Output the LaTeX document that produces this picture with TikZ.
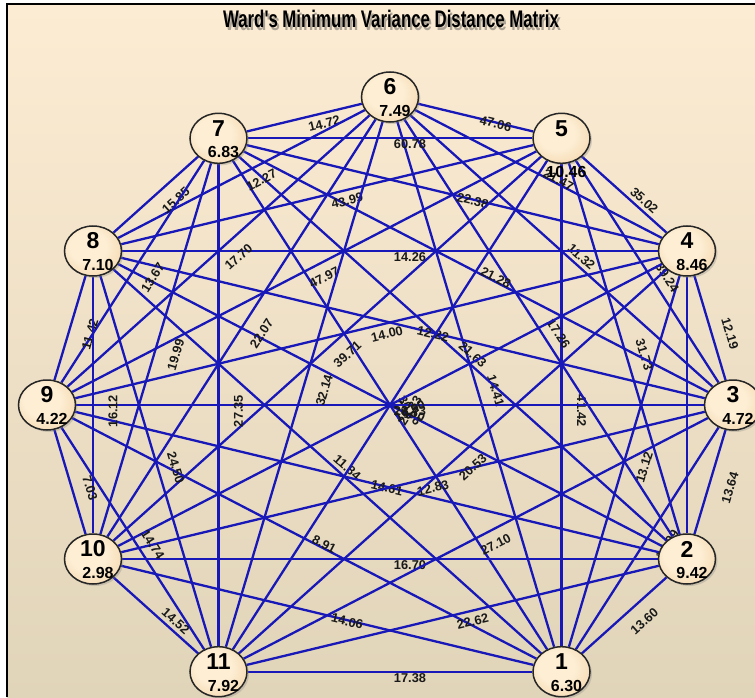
\documentclass[tikz,border=0pt]{standalone}
\usepackage{fontspec}
\setmainfont{Liberation Sans}
\newfontfamily\headfont[FakeStretch=0.7]{Liberation Sans}
\usetikzlibrary{shapes.geometric,shadows}

\pgfdeclarelayer{backdrop}
\pgfdeclarelayer{wires}
\pgfsetlayers{backdrop,wires,main}

\definecolor{wireblue}{RGB}{24,24,184}
\definecolor{paneltop}{RGB}{252,236,211}
\definecolor{panelbottom}{RGB}{224,212,185}
\definecolor{ballin}{RGB}{253,238,212}
\definecolor{ballmid}{RGB}{243,212,168}
\definecolor{ballout}{RGB}{214,172,122}

% light spot a little up and left of the centre of each cluster
\pgfdeclareradialshading{ballshade}{\pgfpoint{-6bp}{6bp}}{%
  color(0bp)=(ballin); color(16bp)=(ballin); color(36bp)=(ballmid);
  color(50bp)=(ballout); color(60bp)=(ballout)}

\begin{document}
\begin{tikzpicture}[
    x=.5pt,y=.5pt,
    wire/.style={wireblue,line width=1.15pt},
    weight/.style={font=\bfseries\fontsize{6.4}{7}\selectfont,inner sep=0pt,text=black!90},
    vertex/.style={ellipse,draw=black!85,line width=.75pt,minimum width=28.5pt,
      minimum height=25pt,inner sep=0pt,shading=ballshade,
      drop shadow={opacity=.3,shadow xshift=1pt,shadow yshift=-1pt}},
    vnum/.style={font=\bfseries\fontsize{11.5}{12}\selectfont,inner sep=0pt},
    vval/.style={font=\bfseries\fontsize{8}{9}\selectfont,inner sep=0pt},
    heading/.style={font=\headfont\bfseries\fontsize{12}{14}\selectfont,inner sep=0pt}
  ]
    \useasboundingbox (-390,-292) rectangle (365,405);

    % Panel: white margin, framed gradient card running off right and bottom.
    \begin{pgfonlayer}{backdrop}
      \fill[white] (-390,-292) rectangle (365,405);
      \shade[top color=paneltop,bottom color=panelbottom] (-383,-292) rectangle (365,401);
      \draw[black,line width=.7pt] (-383,-292) |- (365,401);
    \end{pgfonlayer}

    \node[heading,text=black!70,opacity=.45] (title-shadow) at (3,383) {Ward's Minimum Variance Distance Matrix};
    \node[heading] (title) at (1,386) {Ward's Minimum Variance Distance Matrix};

    % Clusters on an ellipse; the slot at six o'clock stays empty.
    \foreach \k/\px/\py/\val/\drop in {
        1/171.5/-266.7/6.30/-14, 2/297/-154/9.42/-14, 3/343/0/4.72/-14,
        4/297/154/8.46/-14, 5/171.5/266.7/10.46/-34, 6/0/308/7.49/-14,
        7/-171.5/266.7/6.83/-14, 8/-297/154/7.10/-14, 9/-343/0/4.22/-14,
        10/-297/-154/2.98/-14, 11/-171.5/-266.7/7.92/-14}{
      \node[vertex] (n\k) at (\px,\py) {};
      \node[vnum] (n\k-id) at ([shift={(0,10)}]n\k.center) {\k};
      \node[vval] (n\k-val) at ([shift={(5,\drop)}]n\k.center) {\val};
    }

    % Every pair of clusters is joined; distances sit just right of the midpoint.
    \begin{pgfonlayer}{wires}
      \draw[wire] (n4) -- (n2);
      \foreach \p/\q/\w in {
          n2/n1/13.60, n3/n1/14.09, n4/n1/13.12, n5/n1/41.42, n6/n1/14.41,
          n7/n1/30.06, n8/n1/11.84, n9/n1/8.91, n10/n1/14.06, n11/n1/17.38,
          n3/n2/13.64, n5/n2/31.73, n6/n2/17.26, n7/n2/21.63, n8/n2/25.50,
          n9/n2/14.61, n10/n2/16.70, n11/n2/22.62,
          n4/n3/12.19, n5/n3/39.24, n6/n3/11.32, n7/n3/21.28, n8/n3/12.22,
          n9/n3/23.73, n10/n3/12.83, n11/n3/27.10,
          n5/n4/35.02, n6/n4/21.47, n7/n4/22.38, n8/n4/14.26, n9/n4/14.00,
          n10/n4/19.50, n11/n4/20.53,
          n6/n5/47.06, n7/n5/60.78, n8/n5/43.99, n9/n5/47.97, n10/n5/39.71,
          n11/n5/28.33,
          n7/n6/14.72, n8/n6/12.27, n9/n6/17.70, n10/n6/22.07, n11/n6/32.14,
          n8/n7/15.85, n9/n7/13.67, n10/n7/19.99, n11/n7/27.35,
          n9/n8/11.42, n10/n8/16.12, n11/n8/24.50,
          n10/n9/7.03, n11/n9/14.74,
          n11/n10/14.52}{
        \draw[wire] (\p) -- (\q);
        \path ([shift={(20,-6)}]\p.center) -- ([shift={(20,-6)}]\q.center)
          node[weight,midway,sloped] {\w};
      }
    \end{pgfonlayer}
  \end{tikzpicture}
\end{document}
